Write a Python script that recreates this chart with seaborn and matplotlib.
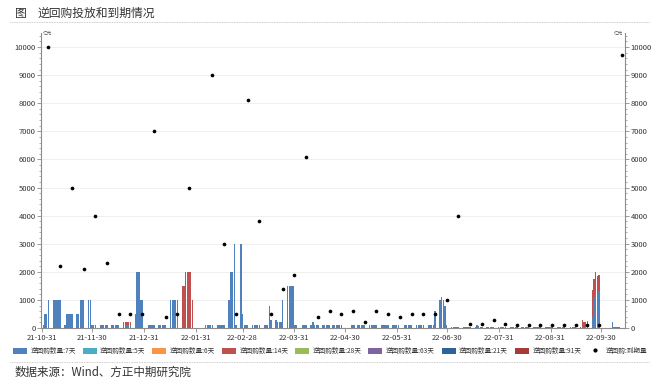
import matplotlib
matplotlib.use("Agg")
import matplotlib.pyplot as plt
import matplotlib.dates as mdates
from matplotlib.patches import Patch
from matplotlib.lines import Line2D
from matplotlib.ticker import MultipleLocator
import seaborn as sns
import pandas as pd

# 7-day reverse repo per trading day, one row per week (Mon..Fri), 亿元
week_start = [
    "2021-11-01", "2021-11-08", "2021-11-15", "2021-11-22", "2021-11-29",
    "2021-12-06", "2021-12-13", "2021-12-20", "2021-12-27",
    "2022-01-03", "2022-01-10", "2022-01-17", "2022-01-24", "2022-01-31",
    "2022-02-07", "2022-02-14", "2022-02-21", "2022-02-28",
    "2022-03-07", "2022-03-14", "2022-03-21", "2022-03-28",
    "2022-04-04", "2022-04-11", "2022-04-18", "2022-04-25",
    "2022-05-02", "2022-05-09", "2022-05-16", "2022-05-23", "2022-05-30",
    "2022-06-06", "2022-06-13", "2022-06-20", "2022-06-27",
    "2022-07-04", "2022-07-11", "2022-07-18", "2022-07-25",
    "2022-08-01", "2022-08-08", "2022-08-15", "2022-08-22", "2022-08-29",
    "2022-09-05", "2022-09-12", "2022-09-19", "2022-09-26",
    "2022-10-03", "2022-10-10",
]
rr7_week = [
    [100, 100, 500, 500, 1000], [1000, 1000, 1000, 1000, 1000],
    [100, 500, 500, 500, 500], [500, 500, 1000, 1000, 1000],
    [1000, 1000, 100, 100, 100],
    [100, 100, 100, 100, 100], [100, 100, 100, 100, 100],
    [100, 100, 100, 100, 100], [500, 2000, 2000, 1000, 1000],
    [0, 100, 100, 100, 100], [100, 100, 100, 100, 100],
    [1000, 1000, 1000, 1000, 1000], [0, 0, 0, 0, 0], [0, 0, 0, 0, 0],
    [100, 100, 100, 100, 100], [100, 100, 100, 100, 100],
    [1000, 2000, 2000, 3000, 100], [3000, 500, 100, 100, 100],
    [100, 100, 100, 100, 100], [100, 100, 100, 800, 300],
    [300, 200, 200, 200, 1000], [1500, 1500, 1500, 1500, 100],
    [0, 0, 100, 100, 100], [100, 200, 100, 100, 100],
    [100, 100, 100, 100, 100], [100, 100, 100, 100, 100],
    [0, 0, 0, 100, 100], [100, 100, 100, 100, 100],
    [100, 100, 100, 100, 100], [100, 100, 100, 100, 100],
    [100, 100, 100, 100, 0],
    [100, 100, 100, 100, 100], [100, 100, 100, 100, 100],
    [100, 100, 100, 100, 600], [1000, 1100, 1000, 800, 100],
    [30, 30, 30, 30, 30], [30, 30, 30, 30, 30],
    [30, 100, 80, 30, 30], [30, 50, 30, 20, 20],
    [20, 20, 20, 20, 20], [20, 20, 20, 20, 20], [20, 20, 20, 20, 20],
    [20, 20, 20, 20, 20], [20, 20, 20, 20, 20],
    [20, 20, 20, 20, 20], [0, 20, 20, 20, 20],
    [20, 20, 20, 20, 20], [400, 1100, 1300, 1300, 1300],
    [0, 0, 0, 0, 0], [20, 20, 20, 0, 0],
]
# weekend working days
extra_days = ["2022-01-29", "2022-01-30", "2022-04-02", "2022-04-24",
              "2022-05-07", "2022-10-08", "2022-10-09"]
extra_rr7 = [0, 0, 100, 100, 100, 200, 20]

# 14-day reverse repo
rr14_dates = ["2021-12-20", "2021-12-21", "2021-12-22", "2021-12-23", "2021-12-24",
              "2022-01-24", "2022-01-25", "2022-01-26", "2022-01-27", "2022-01-28",
              "2022-01-29", "2022-01-30",
              "2022-09-20", "2022-09-21", "2022-09-22", "2022-09-23",
              "2022-09-26", "2022-09-27", "2022-09-28", "2022-09-29", "2022-09-30"]
rr14_vals = [100, 100, 100, 100, 100,
             1500, 1500, 2000, 2000, 2000, 2000, 1000,
             250, 200, 180, 220,
             950, 650, 700, 550, 600]

# maturities (weekly)
due_dates = ["2021-11-05", "2021-11-12", "2021-11-19", "2021-11-26", "2021-12-03",
             "2021-12-10", "2021-12-17", "2021-12-24", "2021-12-31", "2022-01-07",
             "2022-01-14", "2022-01-21", "2022-01-28", "2022-02-11", "2022-02-18",
             "2022-02-25", "2022-03-04", "2022-03-11", "2022-03-18", "2022-03-25",
             "2022-04-01", "2022-04-08", "2022-04-15", "2022-04-22", "2022-04-29",
             "2022-05-06", "2022-05-13", "2022-05-20", "2022-05-27", "2022-06-03",
             "2022-06-10", "2022-06-17", "2022-06-24", "2022-07-01", "2022-07-08",
             "2022-07-15", "2022-07-22", "2022-07-29", "2022-08-05", "2022-08-12",
             "2022-08-19", "2022-08-26", "2022-09-02", "2022-09-09", "2022-09-16",
             "2022-09-23", "2022-09-30", "2022-10-14"]
due_vals = [10000, 2200, 5000, 2100, 4000,
            2300, 500, 500, 500, 7000,
            400, 500, 5000, 9000, 3000,
            500, 8100, 3800, 500, 1400,
            1900, 6100, 400, 600, 500,
            600, 200, 600, 500, 400,
            500, 500, 500, 1000, 4000,
            150, 150, 270, 150, 100,
            100, 100, 100, 100, 100,
            100, 100, 9700]

month_labels = ["21-10-31", "21-11-30", "21-12-31", "22-01-31", "22-02-28", "22-03-31",
                "22-04-30", "22-05-31", "22-06-30", "22-07-31", "22-08-31", "22-09-30"]

legend_labels = ["逆回购数量:7天", "逆回购数量:5天", "逆回购数量:6天", "逆回购数量:14天",
                 "逆回购数量:28天", "逆回购数量:63天", "逆回购数量:21天", "逆回购数量:91天"]
legend_colors = ["#4F81BD", "#4BACC6", "#F79646", "#C0504D",
                 "#9BBB59", "#8064A2", "#2E6399", "#A83B3A"]

# ---- table of bars
rows = []
for ws, vals in zip(week_start, rr7_week):
    for i, v in enumerate(vals):
        rows.append((pd.Timestamp(ws) + pd.Timedelta(days=i), v))
rows += list(zip(pd.to_datetime(extra_days), extra_rr7))
bars = pd.DataFrame(rows, columns=["date", "rr7"]).sort_values("date")
rr14_map = dict(zip(pd.to_datetime(rr14_dates), rr14_vals))
bars["rr14"] = bars["date"].map(rr14_map).fillna(0)
bars["total"] = bars["rr7"] + bars["rr14"]
bars["x"] = mdates.date2num(bars["date"])

due = pd.DataFrame({"x": mdates.date2num(pd.to_datetime(due_dates)), "v": due_vals})

sns.set_theme(style="white")
plt.rcParams["font.family"] = ["Noto Sans CJK SC", "DejaVu Sans"]

fig = plt.figure(figsize=(6.53, 3.86), dpi=100)
ax = fig.add_axes([41 / 653, 58 / 386, 584 / 653, 295 / 386])

sns.barplot(data=bars, x="x", y="total", native_scale=True, orient="x",
            color=legend_colors[3], saturation=1, width=0.85, linewidth=0,
            errorbar=None, ax=ax)
sns.barplot(data=bars, x="x", y="rr7", native_scale=True, orient="x",
            color=legend_colors[0], saturation=1, width=0.85, linewidth=0,
            errorbar=None, ax=ax)

ax2 = ax.twinx()
sns.scatterplot(data=due, x="x", y="v", ax=ax2, color="black", s=7,
                linewidth=0, zorder=5)

x0 = mdates.date2num(pd.Timestamp("2021-10-31")) + 0.55
x1 = mdates.date2num(pd.Timestamp("2022-10-15")) + 0.5
for a in (ax, ax2):
    a.set_xlim(x0, x1)
    a.set_ylim(0, 10500)
    a.set_xlabel("")
    a.set_ylabel("")
    a.yaxis.set_major_locator(MultipleLocator(1000))
    a.yaxis.set_minor_locator(MultipleLocator(200))

ticks = mdates.date2num(pd.to_datetime(["20" + s for s in month_labels]) + pd.Timedelta(days=1))
ax.set_xticks(ticks)
ax.set_xticklabels(month_labels)

ax.grid(axis="y", color="#EDEDED", linewidth=0.6)
ax.set_axisbelow(True)

gray = "#8C8C8C"
for a in (ax, ax2):
    for s in a.spines.values():
        s.set_visible(False)
ax.spines["left"].set_visible(True)
ax.spines["bottom"].set_visible(True)
ax2.spines["right"].set_visible(True)
for s in (ax.spines["left"], ax.spines["bottom"], ax2.spines["right"]):
    s.set_color(gray)
    s.set_linewidth(0.8)

ax.tick_params(axis="y", which="major", length=3, width=0.6, color=gray,
               labelsize=5.5, labelcolor="#333333", pad=1, left=True)
ax.tick_params(axis="y", which="minor", length=1.5, width=0.5, color=gray, left=True)
ax.tick_params(axis="x", which="major", length=3, width=0.6, color=gray,
               labelsize=5.5, labelcolor="#333333", pad=1.5, bottom=True)
ax2.tick_params(axis="y", which="major", length=3, width=0.6, color=gray,
                labelsize=5.5, labelcolor="#333333", pad=1, right=True)
ax2.tick_params(axis="y", which="minor", length=1.5, width=0.5, color=gray, right=True)
ax2.tick_params(axis="x", bottom=False, labelbottom=False)

fig.text(43 / 653, 1 - 33 / 386, "亿元", fontsize=3.3, color="#555555", va="center")
fig.text(614 / 653, 1 - 33 / 386, "亿元", fontsize=3.3, color="#555555", va="center")

# title and source
fig.text(15 / 653, 1 - 13 / 386, "图", fontsize=8.5, color="#333333", va="center")
fig.text(38 / 653, 1 - 13 / 386, "逆回购投放和到期情况", fontsize=8.5, color="#333333", va="center")
fig.add_artist(Line2D([10 / 653, 650 / 653], [1 - 22 / 386] * 2, transform=fig.transFigure,
                      color="#BBBBBB", linewidth=0.6, linestyle=(0, (1, 1))))
fig.add_artist(Line2D([10 / 653, 650 / 653], [1 - 362 / 386] * 2, transform=fig.transFigure,
                      color="#BBBBBB", linewidth=0.6, linestyle=(0, (1, 1))))
fig.text(15 / 653, 1 - 372 / 386, "数据来源：Wind、方正中期研究院", fontsize=8.3,
         color="#333333", va="center", style="italic")

handles = [Patch(facecolor=c, edgecolor="none") for c in legend_colors]
handles.append(Line2D([], [], marker="o", color="black", linestyle="none", markersize=2))
fig.legend(handles, legend_labels + ["逆回购:到期量"], loc="center",
           bbox_to_anchor=(330 / 653, 1 - 351 / 386), ncol=9, frameon=False,
           fontsize=4.8, handlelength=2.1, handleheight=1.05,
           handletextpad=0.5, columnspacing=1.05, labelcolor="#333333")

fig.savefig("out.png", dpi=100)
